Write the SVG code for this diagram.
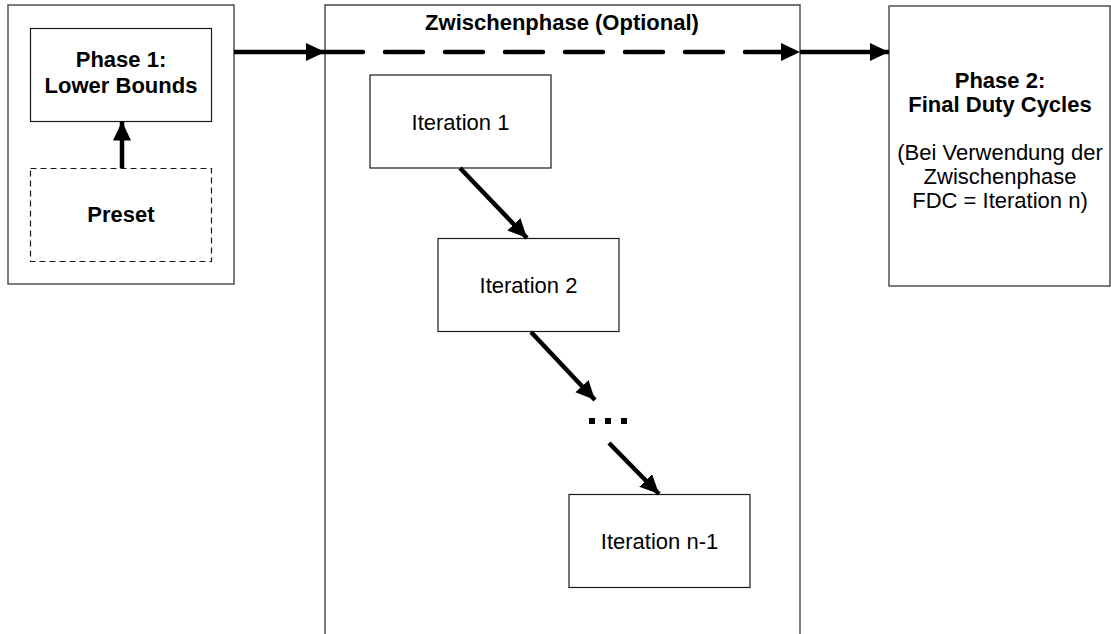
<svg xmlns="http://www.w3.org/2000/svg" width="1111" height="634" viewBox="0 0 1111 634">
  <style>
    .frame { fill: #ffffff; stroke: #444444; stroke-width: 1.4; }
    .box { fill: #ffffff; stroke: #1a1a1a; stroke-width: 1.2; }
    .dashed { fill: #ffffff; stroke: #1a1a1a; stroke-width: 1.2; stroke-dasharray: 6 4; }
    .bold { font-family: "Liberation Sans", Arial, sans-serif; font-size: 22px; font-weight: bold; fill: #000; text-anchor: middle; }
    .reg { font-family: "Liberation Sans", Arial, sans-serif; font-size: 22px; fill: #000; text-anchor: middle; }
    .conn { fill: none; stroke: #000; stroke-width: 4.5; }
    .dash { stroke-dasharray: 38 22; stroke-linecap: round; }
  </style>
  <defs>
    <marker id="arrow" markerUnits="userSpaceOnUse" markerWidth="22" markerHeight="20" refX="19" refY="9" orient="auto">
      <path d="M0,0 L19,9 L0,18 Z" fill="#000"/>
    </marker>
  </defs>

  <rect width="1111" height="634" fill="#ffffff"/>

  <!-- Phase 1 container with its two inner steps -->
  <g id="phase1-frame">
    <rect class="frame" x="8" y="5" width="226" height="279"/>
  </g>
  <g id="phase1">
    <rect class="box" x="30.5" y="28.5" width="181" height="93"/>
    <text class="bold" x="121" y="67">Phase 1:</text>
    <text class="bold" x="121" y="93">Lower Bounds</text>
  </g>
  <g id="preset">
    <rect class="dashed" x="30.5" y="168.5" width="181" height="93"/>
    <text class="bold" x="121" y="222">Preset</text>
  </g>

  <!-- Optional intermediate phase, open at the bottom -->
  <g id="zwischenphase">
    <path class="frame" d="M325,640 L325,5 L800,5 L800,640"/>
    <text class="bold" x="562" y="30">Zwischenphase (Optional)</text>
  </g>
  <g id="iteration1">
    <rect class="box" x="370" y="75" width="181" height="93"/>
    <text class="reg" x="460.5" y="129.5">Iteration 1</text>
  </g>
  <g id="iteration2">
    <rect class="box" x="438" y="238.5" width="181" height="93"/>
    <text class="reg" x="528.5" y="293">Iteration 2</text>
  </g>
  <g id="ellipsis">
    <rect x="589" y="418" width="6" height="6" fill="#000"/>
    <rect x="605" y="418" width="6" height="6" fill="#000"/>
    <rect x="621" y="418" width="6" height="6" fill="#000"/>
  </g>
  <g id="iteration-n-1">
    <rect class="box" x="569" y="494.5" width="181" height="93"/>
    <text class="reg" x="659.5" y="549">Iteration n-1</text>
  </g>

  <!-- Phase 2 -->
  <g id="phase2">
    <rect class="frame" x="889" y="6" width="221" height="280"/>
    <text class="bold" x="1000" y="88">Phase 2:</text>
    <text class="bold" x="1000" y="112">Final Duty Cycles</text>
    <text class="reg" x="1000" y="160">(Bei Verwendung der</text>
    <text class="reg" x="1000" y="184">Zwischenphase</text>
    <text class="reg" x="1000" y="208">FDC = Iteration n)</text>
  </g>

  <!-- Connectors -->
  <g id="connectors">
    <line class="conn" x1="122" y1="168" x2="122" y2="121.5" marker-end="url(#arrow)"/>
    <line class="conn" x1="234" y1="52" x2="325" y2="52" marker-end="url(#arrow)"/>
    <line class="conn dash" x1="325" y1="52" x2="800" y2="52" marker-end="url(#arrow)"/>
    <line class="conn" x1="800" y1="52" x2="889" y2="52" marker-end="url(#arrow)"/>
    <line class="conn" x1="460" y1="168" x2="527" y2="238" marker-end="url(#arrow)"/>
    <line class="conn" x1="531" y1="332" x2="595" y2="400" marker-end="url(#arrow)"/>
    <line class="conn" x1="609" y1="443" x2="659" y2="494" marker-end="url(#arrow)"/>
  </g>
</svg>
